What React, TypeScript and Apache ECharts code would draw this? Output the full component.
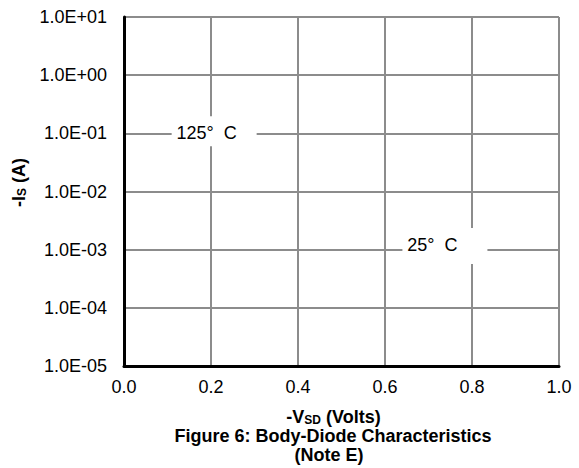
import React, { useEffect, useRef } from "react";
import * as echarts from "echarts";

// Axis ranges and tick labels
const voltTicks = [0.0, 0.2, 0.4, 0.6, 0.8, 1.0];
const currentTickLabels = ["1.0E-05", "1.0E-04", "1.0E-03", "1.0E-02", "1.0E-01", "1.0E+00", "1.0E+01"];
const currentMinExp = -5;
const currentMaxExp = 1;

// Temperature annotations (text centre in volts / amps)
const tempLabels = ["125°  C", "25°  C"];
const tempVolts = [0.19, 0.709];
const tempAmps = [0.1, 0.0012];

// Figure caption lines
const captionLines = ["Figure 6: Body-Diode Characteristics", "(Note E)"];

const FONT = "Liberation Sans, Arial, Helvetica, sans-serif";
const GRID_GRAY = "#8c8c8c";

// White knock-out boxes behind each annotation, relative to the text centre
const tempBoxes = [
  { left: -35, right: 50, top: -17, bottom: 13 },
  { left: -30, right: 55, top: -17, bottom: 19 },
];

export default function App() {
  const ref = useRef<HTMLDivElement>(null);

  useEffect(() => {
    if (!ref.current) return;
    const chart = echarts.init(ref.current, undefined, { renderer: "svg" });

    const axisNameRich = {
      m: { fontFamily: FONT, fontSize: 18, lineHeight: 18, fontWeight: "bold", color: "#000" },
      s: {
        fontFamily: FONT,
        fontSize: 12,
        lineHeight: 12,
        fontWeight: "bold",
        color: "#000",
        verticalAlign: "bottom",
      },
    };

    chart.setOption({
      animation: false,
      backgroundColor: "#ffffff",
      textStyle: { fontFamily: FONT },
      grid: { left: 124, right: 20, top: 17, bottom: 102, containLabel: false },
      xAxis: {
        type: "value",
        min: voltTicks[0],
        max: voltTicks[voltTicks.length - 1],
        interval: 0.2,
        name: "{m|-V}{s|SD}{m| (Volts)}",
        nameLocation: "middle",
        nameGap: 42,
        nameTextStyle: { rich: axisNameRich, padding: [0, 16, 0, 0] },
        axisLine: { show: true, lineStyle: { color: "#000", width: 3 } },
        axisTick: { show: false },
        axisLabel: {
          color: "#000",
          fontFamily: FONT,
          fontSize: 18,
          margin: 12,
          formatter: (v: number) => v.toFixed(1),
        },
        splitLine: { show: true, lineStyle: { color: GRID_GRAY, width: 2 } },
      },
      yAxis: {
        type: "log",
        logBase: 10,
        min: Math.pow(10, currentMinExp),
        max: Math.pow(10, currentMaxExp),
        name: "{m|-I}{s|S}{m| (A)}",
        nameLocation: "middle",
        nameGap: 96,
        nameRotate: 90,
        nameTextStyle: { rich: axisNameRich, padding: [0, 0, 0, 18] },
        axisLine: { show: true, lineStyle: { color: "#000", width: 3 } },
        axisTick: { show: false },
        axisLabel: {
          color: "#000",
          fontFamily: FONT,
          fontSize: 18,
          margin: 17,
          formatter: (v: number) => {
            const e = Math.round(Math.log10(v));
            return currentTickLabels[e - currentMinExp] ?? "";
          },
        },
        splitLine: { show: true, lineStyle: { color: GRID_GRAY, width: 2 } },
      },
      series: [
        {
          type: "custom",
          silent: true,
          clip: false,
          z: 10,
          data: tempLabels.map((t, i) => [tempVolts[i], tempAmps[i], i]),
          renderItem: (params: any, api: any) => {
            const p = api.coord([api.value(0), api.value(1)]);
            const i = api.value(2);
            const b = tempBoxes[i];
            return {
              type: "group",
              children: [
                {
                  type: "rect",
                  shape: {
                    x: p[0] + b.left,
                    y: p[1] + b.top,
                    width: b.right - b.left,
                    height: b.bottom - b.top,
                  },
                  style: { fill: "#ffffff" },
                },
                {
                  type: "text",
                  x: p[0],
                  y: p[1],
                  style: {
                    text: tempLabels[i],
                    fill: "#000",
                    font: `18px ${FONT}`,
                    textAlign: "center",
                    textVerticalAlign: "middle",
                  },
                },
              ],
            };
          },
        },
      ],
      graphic: [
        {
          type: "text",
          x: 333,
          y: 436,
          style: {
            text: captionLines[0],
            font: `bold 18px ${FONT}`,
            fill: "#000",
            textAlign: "center",
            textVerticalAlign: "middle",
          },
        },
        {
          type: "text",
          x: 329,
          y: 455,
          style: {
            text: captionLines[1],
            font: `bold 18px ${FONT}`,
            fill: "#000",
            textAlign: "center",
            textVerticalAlign: "middle",
          },
        },
      ],
    });

    return () => chart.dispose();
  }, []);

  return <div ref={ref} style={{ width: 579, height: 468, position: "absolute", left: 0, top: 0 }} />;
}
